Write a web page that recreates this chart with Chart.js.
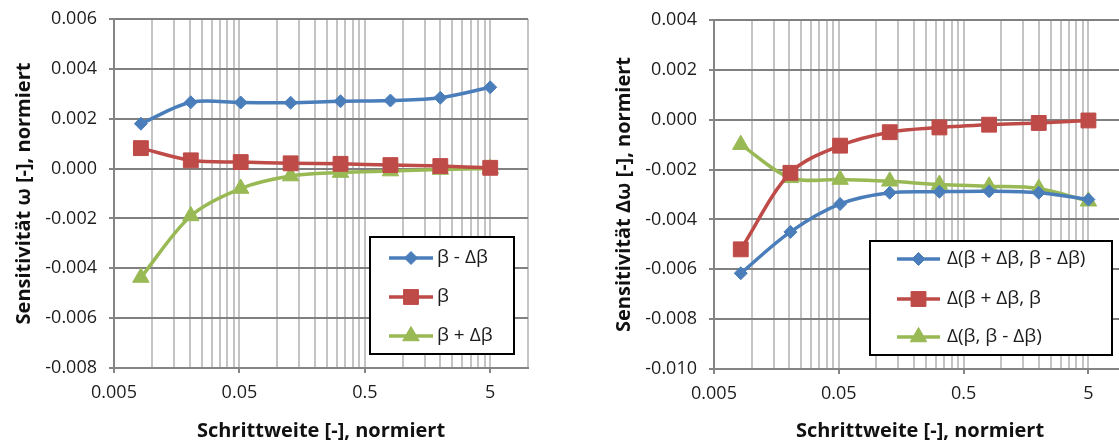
<!DOCTYPE html>
<html><head><meta charset="utf-8">
<script src="https://cdn.jsdelivr.net/npm/chart.js@4.4.1/dist/chart.umd.min.js"></script>
<style>
html,body{margin:0;padding:0;background:#fff;overflow:hidden;width:1119px;height:444px;}
#w1{position:absolute;left:0;top:0;width:560px;height:444px;}
#w2{position:absolute;left:600px;top:0;width:560px;height:444px;}
</style></head><body>
<div id="w1"><canvas id="c1"></canvas></div>
<div id="w2"><canvas id="c2"></canvas></div>
<script>
// ---- data ----
const stepWidths = [0.008192, 0.02048, 0.0512, 0.128, 0.32, 0.8, 2, 5];
const xTickLabels = ['0.005', '0.05', '0.5', '5'];
const leftNames = ['β - Δβ', 'β', 'β + Δβ'];
const leftMinus = [0.0018, 0.00266, 0.00265, 0.00264, 0.0027, 0.00273, 0.00284, 0.00326];
const leftBase  = [0.00082, 0.00033, 0.00026, 0.00021, 0.00019, 0.00014, 0.0001, 0.00003];
const leftPlus  = [-0.00437, -0.0019, -0.0008, -0.0003, -0.00016, -0.0001, -0.00004, 0.0];
const rightNames = ['Δ(β + Δβ, β - Δβ)', 'Δ(β + Δβ, β', 'Δ(β, β - Δβ)'];
const rightPlusMinus = [-0.00616, -0.0045, -0.00338, -0.00293, -0.00289, -0.00287, -0.00293, -0.0032];
const rightPlusBase  = [-0.0052, -0.00213, -0.00104, -0.0005, -0.00031, -0.0002, -0.00013, -0.00003];
const rightBaseMinus = [-0.001, -0.00233, -0.0024, -0.00247, -0.0026, -0.00267, -0.00276, -0.00327];

const FONT = "'Open Sans', sans-serif";
const TXT = '#1c1c1c';
const colors = ['#4A7EBB', '#BE4B48', '#98B954'];
const styles = ['rectRot', 'rect', 'triangle'];
const radii = [6.5, 10.5, 9.5];

// gridline positions of the log axis: minor lines at k*decade start, up to the axis end (10)
const majorVals = xTickLabels.map(Number);
const X_MAX = 10;
const gridVals = [];
majorVals.forEach(m => { for (let k = 1; k <= 9; k++) { const v = +(m * k).toPrecision(6); if (v <= X_MAX) gridVals.push(v); } });
function isMajor(v) { return majorVals.some(m => Math.abs(v - m) < m * 1e-6); }

const legendBox = {
  id: 'legendBox',
  afterDatasetsDraw(chart, args, o) {
    const ctx = chart.ctx;
    ctx.save();
    ctx.fillStyle = '#fff';
    ctx.fillRect(o.x, o.y, o.w, o.h);
    ctx.lineWidth = 2; ctx.strokeStyle = '#000';
    ctx.strokeRect(o.x, o.y, o.w, o.h);
    chart.data.datasets.forEach((ds, i) => {
      const y = o.rows[i];
      ctx.strokeStyle = ds.borderColor; ctx.lineWidth = ds.borderWidth;
      ctx.beginPath(); ctx.moveTo(o.x1, y); ctx.lineTo(o.x2, y); ctx.stroke();
      ctx.fillStyle = ds.backgroundColor; ctx.strokeStyle = ds.borderColor; ctx.lineWidth = 1;
      Chart.helpers.drawPoint(ctx, {pointStyle: ds.pointStyle, radius: ds.pointRadius, rotation: 0, borderWidth: 1}, (o.x1 + o.x2) / 2, y);
      ctx.fillStyle = TXT; ctx.font = o.font; ctx.textBaseline = 'middle'; ctx.textAlign = 'left';
      ctx.fillText(ds.label, o.tx, y);
    });
    ctx.restore();
  }
};

function makeDatasets(names, series) {
  return names.map((n, i) => ({
    label: n,
    data: stepWidths.map((x, j) => ({x: x, y: series[i][j]})),
    borderColor: colors[i], backgroundColor: colors[i],
    borderWidth: 3.5, pointStyle: styles[i], pointRadius: radii[i], pointHoverRadius: radii[i],
    pointBorderWidth: 1, tension: 0.33, clip: false
  }));
}

function makeChart(id, names, series, yMin, yMax, yTitle, pad, xAxisH, legend) {
  return new Chart(document.getElementById(id), {
    type: 'line',
    data: {datasets: makeDatasets(names, series)},
    plugins: [legendBox],
    options: {
      responsive: true, maintainAspectRatio: false, animation: false,
      layout: {padding: {top: pad.top, right: pad.right, left: 0, bottom: 0}},
      plugins: {legend: {display: false}, tooltip: {enabled: false}, legendBox: legend},
      scales: {
        x: {
          type: 'logarithmic', min: 0.005, max: X_MAX,
          afterBuildTicks: s => { s.ticks = gridVals.map(v => ({value: v})); },
          afterFit: s => { s.height = xAxisH; },
          ticks: {
            autoSkip: false, maxRotation: 0, minRotation: 0, padding: 9,
            color: TXT, font: {family: FONT, size: 18},
            callback: (v) => { const i = majorVals.findIndex(m => Math.abs(v - m) < m * 1e-6); return i >= 0 ? xTickLabels[i] : ''; }
          },
          grid: {
            color: '#c4c4c4', lineWidth: 2, tickLength: 5,
            tickColor: c => (c.tick && isMajor(c.tick.value)) ? '#858585' : 'rgba(0,0,0,0)'
          },
          border: {color: '#858585', width: 2},
          title: {display: true, text: 'Schrittweite [-], normiert', color: '#111',
                  font: {family: FONT, size: 20, weight: 'bold'}, padding: {top: 0, bottom: 1}}
        },
        y: {
          type: 'linear', min: yMin, max: yMax,
          afterFit: s => { s.width = 114; s.paddingTop = 0; s.paddingBottom = 0; },
          ticks: {stepSize: 0.002, padding: 12, color: TXT, font: {family: FONT, size: 18},
                  callback: v => (Math.abs(v) < 1e-12 ? 0 : v).toFixed(3)},
          grid: {color: '#808080', lineWidth: 2, tickLength: 5, tickColor: '#858585'},
          border: {color: '#858585', width: 2},
          title: {display: true, text: yTitle, color: '#111',
                  font: {family: FONT, size: 20, weight: 'bold'}, padding: {top: 12, bottom: 0}}
        }
      }
    }
  });
}

const chartL = makeChart('c1', leftNames, [leftMinus, leftBase, leftPlus], -0.008, 0.006,
  'Sensitivität ω [-], normiert', {top: 19, right: 32}, 76,
  {x: 370, y: 237, w: 144, h: 117, x1: 389, x2: 433, tx: 437, rows: [258, 297, 336], font: '19px ' + FONT});
const chartR = makeChart('c2', rightNames, [rightPlusMinus, rightPlusBase, rightBaseMinus], -0.010, 0.004,
  'Sensitivität Δω [-], normiert', {top: 20, right: 34}, 75,
  {x: 270, y: 241, w: 242, h: 114, x1: 297, x2: 340, tx: 347, rows: [259, 299, 337], font: '19px ' + FONT});

// self-check: report (via error output) only if a horizontal gridline did not get drawn
[chartL, chartR].forEach((ch, n) => {
  const yy = Math.round(ch.scales.y.getPixelForValue(0.002));
  let darkest = 255;
  for (let d = -2; d <= 2; d++) {
    const p = ch.ctx.getImageData(330, yy + d, 1, 1).data;
    darkest = Math.min(darkest, p[3] === 0 ? 255 : p[0]);
  }
  if (darkest > 200) setTimeout(() => { throw new Error('chart ' + n + ' horizontal gridline not found near y=' + yy + ' darkest=' + darkest); }, 0);
});
</script>
</body></html>
